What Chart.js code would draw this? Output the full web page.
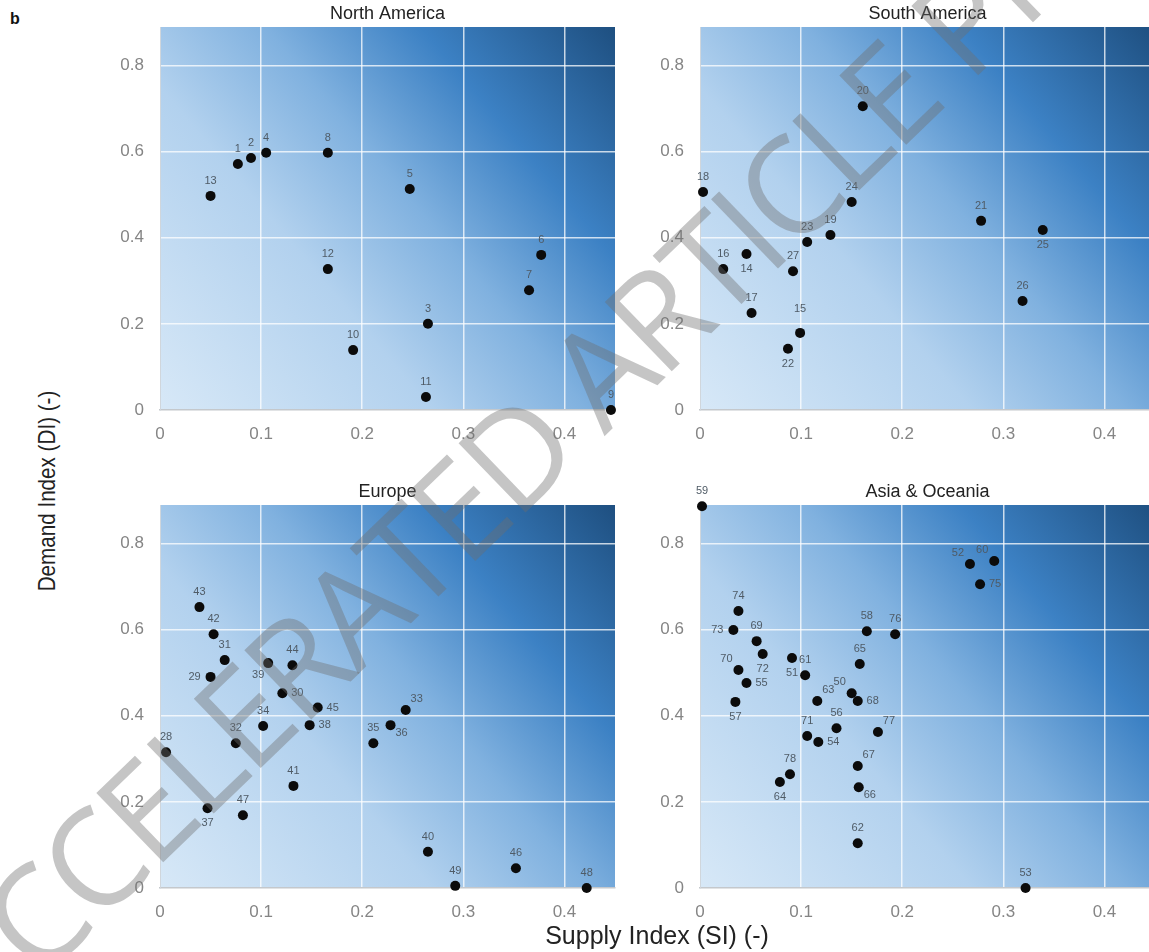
<!DOCTYPE html>
<html>
<head>
<meta charset="utf-8">
<title>Supply vs Demand Index</title>
<script src="https://cdn.jsdelivr.net/npm/chart.js@4.4.1/dist/chart.umd.min.js"></script>
<style>
    body { margin: 0; width: 1149px; height: 952px; overflow: hidden; background: #fff; position: relative;
           font-family: "Liberation Sans", Arial, sans-serif; }
    canvas.panel { position: absolute; }
    #fig-letter { position: absolute; left: 10px; top: 10px; font-weight: bold; font-size: 16px; color: #111; }
    #y-title { position: absolute; left: 47px; top: 491px; transform: translate(-50%, -50%) rotate(-90deg) scaleX(0.86);
               white-space: nowrap; font-size: 24px; color: #222; }
    #x-title { position: absolute; left: 657px; top: 935px; transform: translate(-50%, -50%);
               white-space: nowrap; font-size: 25px; color: #222; }
    #watermark { position: absolute; left: -8px; top: 1050px; transform-origin: 0 0; transform: rotate(-44deg) translateY(-100%);
                 white-space: nowrap; font-family: "Open Sans", "Liberation Sans", sans-serif; font-weight: 400;
                 font-size: 135px; letter-spacing: -5px; line-height: 1; color: rgba(110, 110, 110, 0.4); pointer-events: none; }
</style>
</head>
<body>
<div id="fig-letter">b</div>
<canvas id="chart-na" class="panel" width="530" height="450" style="left:100px;top:0px"></canvas>
<canvas id="chart-sa" class="panel" width="530" height="450" style="left:640px;top:0px"></canvas>
<canvas id="chart-eu" class="panel" width="530" height="450" style="left:100px;top:478px"></canvas>
<canvas id="chart-as" class="panel" width="530" height="450" style="left:640px;top:478px"></canvas>
<div id="y-title">Demand Index (DI) (-)</div>
<div id="x-title">Supply Index (SI) (-)</div>
<div id="watermark">ACCELERATED ARTICLE PREVIEW</div>

<script>
// --- Data ---
const xTicks = [0, 0.1, 0.2, 0.3, 0.4];
const yTicks = [0, 0.2, 0.4, 0.6, 0.8];

// North America
const naIds = [13, 1, 2, 4, 8, 5, 12, 10, 3, 11, 6, 7, 9];
const naSI  = [0.050, 0.077, 0.090, 0.105, 0.166, 0.247, 0.166, 0.191, 0.265, 0.263, 0.377, 0.365, 0.446];
const naDI  = [0.497, 0.571, 0.585, 0.597, 0.597, 0.513, 0.327, 0.139, 0.200, 0.030, 0.360, 0.278, 0.000];
const naPos = ['t', 't', 't', 't', 't', 't', 't', 't', 't', 't', 't', 't', 't'];

// South America
const saIds = [20, 18, 24, 19, 23, 16, 14, 27, 17, 15, 22, 21, 25, 26];
const saSI  = [0.161, 0.003, 0.150, 0.129, 0.106, 0.023, 0.046, 0.092, 0.051, 0.099, 0.087, 0.278, 0.339, 0.319];
const saDI  = [0.705, 0.506, 0.483, 0.406, 0.390, 0.327, 0.362, 0.322, 0.225, 0.179, 0.142, 0.439, 0.418, 0.253];
const saPos = ['t', 't', 't', 't', 't', 't', 'b', 't', 't', 't2', 'b', 't', 'b', 't'];

// Europe
const euIds = [43, 42, 31, 29, 39, 44, 30, 45, 34, 38, 32, 28, 41, 37, 47, 33, 36, 35, 40, 49, 46, 48];
const euSI  = [0.039, 0.053, 0.064, 0.050, 0.107, 0.131, 0.121, 0.156, 0.102, 0.148, 0.075, 0.006, 0.132, 0.047, 0.082,
               0.243, 0.228, 0.211, 0.265, 0.292, 0.352, 0.422];
const euDI  = [0.652, 0.589, 0.529, 0.490, 0.522, 0.517, 0.452, 0.419, 0.376, 0.378, 0.336, 0.315, 0.237, 0.185, 0.169,
               0.413, 0.378, 0.336, 0.084, 0.005, 0.046, 0.000];
const euPos = ['t', 't', 't', 'l', 'bl', 't', 'r', 'r', 't', 'r', 't', 't', 't', 'b', 't', 'tr', 'br', 't', 't', 't', 't', 't'];

// Asia & Oceania
const asIds = [59, 74, 73, 69, 72, 70, 55, 57, 51, 61, 58, 65, 50, 68, 63, 71, 56, 54, 77, 67, 66, 78, 64, 62, 76, 52, 60, 75, 53];
const asSI  = [0.002, 0.038, 0.033, 0.056, 0.062, 0.038, 0.046, 0.035, 0.091, 0.104, 0.165, 0.158, 0.150, 0.156, 0.116,
               0.106, 0.135, 0.117, 0.176, 0.156, 0.157, 0.089, 0.079, 0.156, 0.193, 0.267, 0.291, 0.277, 0.322];
const asDI  = [0.886, 0.643, 0.599, 0.573, 0.543, 0.506, 0.476, 0.432, 0.534, 0.494, 0.596, 0.520, 0.452, 0.434, 0.434,
               0.353, 0.371, 0.339, 0.362, 0.283, 0.234, 0.264, 0.246, 0.104, 0.589, 0.752, 0.759, 0.705, 0.000];
const asPos = ['t', 't', 'l', 't', 'b', 'tl', 'r', 'b', 'b', 't', 't', 't', 'tl', 'r', 'tr',
               't', 't', 'r', 'tr', 'tr', 'br', 't', 'b', 't', 't', 'tl', 'tl', 'r', 't'];

// label offsets relative to the dot
const OFFSETS = {
    t: [0, -15], t2: [0, -24], b: [0, 15], l: [-16, 0], r: [15, 0],
    tl: [-12, -11], tr: [11, -11], bl: [-10, 12], br: [11, 8]
};

// Background gradient, point labels and panel title
const decorPlugin = {
    id: 'decor',
    beforeDraw(chart, args, opts) {
        const { ctx, chartArea: a } = chart;
        const g = ctx.createLinearGradient(a.left, a.bottom, a.right, a.top);
        g.addColorStop(0, '#d7e8f7');
        g.addColorStop(0.35, '#b2d1ee');
        g.addColorStop(0.55, '#80b1df');
        g.addColorStop(0.75, '#3c81c4');
        g.addColorStop(1, '#1e4f80');
        ctx.save();
        ctx.fillStyle = g;
        ctx.fillRect(a.left, a.top, a.right - a.left, a.bottom - a.top);
        ctx.restore();
    },
    afterDatasetsDraw(chart, args, opts) {
        const { ctx, chartArea: a } = chart;
        const meta = chart.getDatasetMeta(0);
        ctx.save();
        ctx.font = '11px "Liberation Sans", Arial, sans-serif';
        ctx.fillStyle = '#4f5b66';
        ctx.textAlign = 'center';
        ctx.textBaseline = 'middle';
        meta.data.forEach((pt, i) => {
            const off = OFFSETS[opts.pos[i]] || OFFSETS.t;
            ctx.fillText(String(opts.ids[i]), pt.x + off[0], pt.y + off[1]);
        });
        // panel title
        ctx.font = '18px "Liberation Sans", Arial, sans-serif';
        ctx.fillStyle = '#222';
        ctx.textBaseline = 'alphabetic';
        ctx.fillText(opts.title, (a.left + a.right) / 2, a.top - 8);
        ctx.restore();
    }
};

function makePanel(id, title, ids, si, di, pos) {
    const ctx = document.getElementById(id);
    return new Chart(ctx, {
        type: 'scatter',
        data: {
            datasets: [{
                data: si.map((x, i) => ({ x: x, y: di[i] })),
                backgroundColor: '#0b0b0b',
                borderWidth: 0,
                pointRadius: 5,
                pointHoverRadius: 5,
                clip: false
            }]
        },
        options: {
            responsive: false,
            animation: false,
            devicePixelRatio: 1,
            layout: { padding: { left: 10, right: 15, top: 27, bottom: 10 } },
            plugins: {
                legend: { display: false },
                tooltip: { enabled: false },
                decor: { title: title, ids: ids, pos: pos }
            },
            scales: {
                x: {
                    type: 'linear',
                    min: 0,
                    max: 0.45,
                    afterBuildTicks: (s) => { s.ticks = xTicks.map(v => ({ value: v })); },
                    afterFit: (s) => { s.height = 30; },
                    grid: { color: 'rgba(255,255,255,0.75)', lineWidth: 1.5, drawTicks: false },
                    border: { display: true, color: '#c4c8cc', width: 1.5 },
                    ticks: { padding: 14, color: '#858585', font: { size: 17, family: '"Liberation Sans", Arial, sans-serif' },
                             callback: (v) => String(v) }
                },
                y: {
                    type: 'linear',
                    min: 0,
                    max: 0.889,
                    afterBuildTicks: (s) => { s.ticks = yTicks.map(v => ({ value: v })); },
                    afterFit: (s) => { s.width = 50; },
                    grid: { color: 'rgba(255,255,255,0.75)', lineWidth: 1.5, drawTicks: false },
                    border: { display: true, color: '#d0d6dc', width: 1 },
                    ticks: { padding: 16, color: '#858585', font: { size: 17, family: '"Liberation Sans", Arial, sans-serif' },
                             callback: (v) => String(v) }
                }
            }
        },
        plugins: [decorPlugin]
    });
}

makePanel('chart-na', 'North America', naIds, naSI, naDI, naPos);
makePanel('chart-sa', 'South America', saIds, saSI, saDI, saPos);
makePanel('chart-eu', 'Europe', euIds, euSI, euDI, euPos);
makePanel('chart-as', 'Asia & Oceania', asIds, asSI, asDI, asPos);
</script>
</body>
</html>
